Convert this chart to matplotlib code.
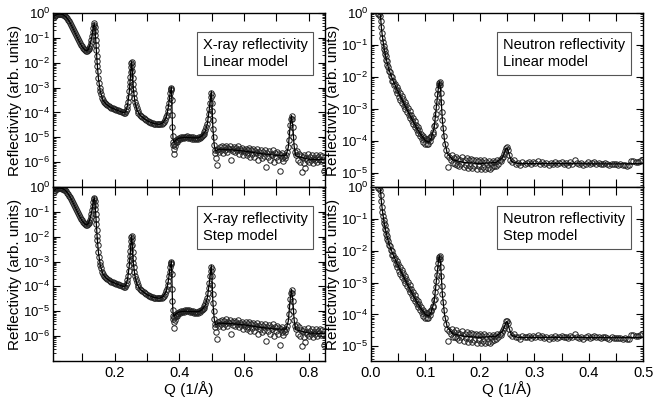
import numpy as np
import matplotlib.pyplot as plt
from matplotlib.ticker import MultipleLocator, FuncFormatter, LogLocator

plt.rcParams['font.family'] = ['Liberation Sans', 'DejaVu Sans']

# X-ray reflectivity data (Q in 1/A, log10 of reflectivity)
xray_q = [
    0.012, 0.015, 0.018, 0.021, 0.024, 0.027, 0.030, 0.033, 0.036, 0.039,
    0.042, 0.045, 0.048, 0.051, 0.054, 0.057, 0.060, 0.063, 0.066, 0.069,
    0.072, 0.075, 0.078, 0.081, 0.084, 0.087, 0.090, 0.093, 0.096, 0.099,
    0.102, 0.105, 0.108, 0.111, 0.114, 0.117, 0.120, 0.122, 0.124, 0.126,
    0.128, 0.130, 0.132, 0.134, 0.136, 0.137, 0.139, 0.140, 0.141, 0.142,
    0.143, 0.144, 0.145, 0.146, 0.147, 0.148, 0.150, 0.152, 0.154, 0.156,
    0.158, 0.161, 0.164, 0.167, 0.170, 0.174, 0.178, 0.182, 0.186, 0.190,
    0.194, 0.198, 0.202, 0.206, 0.210, 0.214, 0.218, 0.222, 0.226, 0.229,
    0.232, 0.235, 0.238, 0.240, 0.242, 0.244, 0.246, 0.247, 0.248, 0.249,
    0.250, 0.251, 0.252, 0.253, 0.254, 0.255, 0.256, 0.257, 0.258, 0.259,
    0.261, 0.263, 0.265, 0.268, 0.271, 0.274, 0.278, 0.282, 0.286, 0.290,
    0.294, 0.298, 0.302, 0.306, 0.310, 0.314, 0.318, 0.322, 0.326, 0.330,
    0.334, 0.338, 0.342, 0.346, 0.350, 0.354, 0.357, 0.360, 0.362, 0.364,
    0.366, 0.368, 0.370, 0.372, 0.374, 0.375, 0.376, 0.377, 0.378, 0.379,
    0.380, 0.381, 0.382, 0.383, 0.384, 0.385, 0.387, 0.389, 0.391, 0.393,
    0.395, 0.397, 0.400, 0.403, 0.406, 0.409, 0.412, 0.415, 0.418, 0.421,
    0.424, 0.427, 0.430, 0.433, 0.436, 0.439, 0.442, 0.445, 0.448, 0.451,
    0.454, 0.457, 0.460, 0.463, 0.466, 0.469, 0.472, 0.475, 0.478, 0.481,
    0.484, 0.487, 0.489, 0.491, 0.493, 0.495, 0.497, 0.499, 0.500, 0.501,
    0.502, 0.503, 0.504, 0.506, 0.508, 0.510, 0.512, 0.514, 0.516, 0.518,
    0.520, 0.524, 0.527, 0.530, 0.533, 0.536, 0.539, 0.542, 0.545, 0.548,
    0.551, 0.554, 0.557, 0.560, 0.563, 0.566, 0.569, 0.572, 0.575, 0.578,
    0.581, 0.584, 0.587, 0.590, 0.593, 0.596, 0.599, 0.602, 0.605, 0.608,
    0.611, 0.614, 0.617, 0.620, 0.623, 0.626, 0.629, 0.632, 0.635, 0.638,
    0.641, 0.644, 0.647, 0.650, 0.653, 0.656, 0.659, 0.662, 0.665, 0.668,
    0.671, 0.674, 0.677, 0.680, 0.683, 0.686, 0.689, 0.692, 0.695, 0.698,
    0.701, 0.704, 0.707, 0.710, 0.713, 0.716, 0.719, 0.722, 0.725, 0.728,
    0.731, 0.734, 0.737, 0.739, 0.741, 0.743, 0.745, 0.747, 0.749, 0.751,
    0.753, 0.755, 0.757, 0.760, 0.763, 0.766, 0.769, 0.772, 0.775, 0.778,
    0.781, 0.784, 0.787, 0.790, 0.793, 0.796, 0.799, 0.802, 0.805, 0.808,
    0.811, 0.814, 0.817, 0.820, 0.823, 0.826, 0.829, 0.832, 0.835, 0.838,
    0.841, 0.844, 0.847,
]
xray_logr = [
    -0.18, -0.12, -0.08, -0.06, -0.05, -0.04, -0.04, -0.04, -0.05, -0.06,
    -0.08, -0.10, -0.13, -0.17, -0.22, -0.28, -0.34, -0.41, -0.48, -0.56,
    -0.64, -0.72, -0.80, -0.88, -0.96, -1.04, -1.12, -1.20, -1.27, -1.34,
    -1.40, -1.45, -1.49, -1.52, -1.52, -1.50, -1.45, -1.39, -1.31, -1.20,
    -1.08, -0.94, -0.78, -0.62, -0.48, -0.42, -0.55, -0.72, -0.90, -1.10,
    -1.30, -1.50, -1.72, -1.95, -2.15, -2.35, -2.60, -2.82, -3.00, -3.15,
    -3.27, -3.40, -3.50, -3.57, -3.62, -3.67, -3.71, -3.75, -3.78, -3.81,
    -3.84, -3.86, -3.88, -3.90, -3.92, -3.94, -3.96, -3.98, -4.00, -4.02,
    -4.04, -3.96, -3.86, -3.74, -3.58, -3.38, -3.12, -2.95, -2.78, -2.58,
    -2.38, -2.18, -2.02, -1.96, -2.10, -2.35, -2.60, -2.85, -3.05, -3.22,
    -3.42, -3.57, -3.70, -3.84, -3.95, -4.03, -4.10, -4.16, -4.20, -4.24,
    -4.28, -4.31, -4.34, -4.37, -4.39, -4.41, -4.43, -4.45, -4.46, -4.47,
    -4.48, -4.48, -4.47, -4.45, -4.42, -4.37, -4.30, -4.20, -4.10, -3.96,
    -3.80, -3.60, -3.40, -3.22, -3.08, -3.00, -3.05, -3.50, -4.10, -4.60,
    -4.95, -5.20, -5.30, -5.45, -5.25, -5.68, -5.35, -5.20, -5.12, -5.20,
    -5.08, -5.10, -5.03, -5.06, -5.00, -5.04, -4.98, -5.02, -4.97, -5.00,
    -4.96, -5.01, -4.97, -5.03, -4.98, -5.05, -5.00, -5.07, -5.03, -5.08,
    -5.02, -5.06, -5.00, -5.02, -4.97, -4.95, -4.91, -4.86, -4.80, -4.72,
    -4.60, -4.45, -4.28, -4.08, -3.85, -3.60, -3.38, -3.20, -3.30, -3.60,
    -3.95, -4.30, -4.65, -5.00, -5.30, -5.50, -5.62, -5.85, -6.10, -5.50,
    -5.45, -5.60, -5.38, -5.52, -5.35, -5.62, -5.40, -5.50, -5.33, -5.58,
    -5.42, -5.48, -5.36, -5.90, -5.45, -5.55, -5.38, -5.60, -5.44, -5.52,
    -5.34, -5.65, -5.47, -5.56, -5.42, -5.70, -5.50, -5.60, -5.45, -5.72,
    -5.52, -5.62, -5.44, -5.78, -5.50, -5.66, -5.48, -5.80, -5.55, -5.62,
    -5.46, -5.90, -5.58, -5.70, -5.50, -5.85, -5.60, -5.75, -5.52, -6.20,
    -5.62, -5.78, -5.55, -5.90, -5.65, -5.72, -5.50, -6.00, -5.64, -5.80,
    -5.58, -5.92, -5.66, -6.35, -5.70, -5.82, -5.62, -5.95, -5.75, -5.85,
    -5.70, -5.60, -5.40, -5.10, -4.80, -4.50, -4.28, -4.15, -4.25, -4.60,
    -5.00, -5.35, -5.60, -5.70, -5.55, -5.90, -5.65, -6.00, -5.75, -6.40,
    -5.80, -6.05, -5.70, -6.25, -5.85, -5.92, -5.68, -6.00, -5.80, -5.90,
    -5.72, -6.05, -5.82, -5.90, -5.70, -6.00, -5.78, -5.88, -5.72, -5.95,
    -5.75, -5.90, -6.35,
]

# X-ray model curves (both models overlap at this scale)
xray_fit_q = [
    0.012, 0.02, 0.03, 0.04, 0.05, 0.06, 0.07, 0.08, 0.09, 0.10,
    0.108, 0.114, 0.12, 0.126, 0.13, 0.134, 0.137, 0.139, 0.142, 0.146,
    0.15, 0.156, 0.164, 0.174, 0.19, 0.21, 0.228, 0.234, 0.24, 0.246,
    0.25, 0.253, 0.255, 0.258, 0.263, 0.27, 0.28, 0.30, 0.32, 0.338,
    0.35, 0.36, 0.366, 0.372, 0.3755, 0.377, 0.379, 0.381, 0.384, 0.39,
    0.40, 0.42, 0.44, 0.46, 0.47, 0.48, 0.487, 0.493, 0.499, 0.501,
    0.504, 0.508, 0.512, 0.52, 0.56, 0.60, 0.65, 0.70, 0.73, 0.737,
    0.743, 0.747, 0.751, 0.755, 0.76, 0.80, 0.85,
]
xray_fit_linear = [
    -0.15, -0.07, -0.04, -0.06, -0.15, -0.33, -0.58, -0.85, -1.12, -1.36,
    -1.49, -1.52, -1.45, -1.20, -0.94, -0.62, -0.40, -0.55, -1.10, -1.95,
    -2.60, -3.15, -3.50, -3.67, -3.81, -3.92, -4.01, -3.98, -3.74, -3.12,
    -2.38, -1.95, -2.35, -3.05, -3.57, -3.92, -4.13, -4.33, -4.44, -4.48,
    -4.42, -4.20, -3.80, -3.22, -2.98, -3.50, -4.60, -5.10, -5.20, -5.10,
    -5.03, -5.00, -5.02, -5.02, -4.94, -4.78, -4.45, -3.85, -3.15, -3.60,
    -4.65, -5.30, -5.55, -5.48, -5.50, -5.55, -5.65, -5.72, -5.72, -5.40,
    -4.50, -4.12, -4.60, -5.35, -5.75, -5.88, -5.90,
]
xray_fit_step = list(xray_fit_linear)

# Neutron reflectivity data
neutron_q = [
    0.013, 0.015, 0.017, 0.018, 0.019, 0.020, 0.021, 0.022, 0.023, 0.024,
    0.025, 0.026, 0.027, 0.028, 0.029, 0.030, 0.032, 0.033, 0.035, 0.036,
    0.038, 0.039, 0.041, 0.042, 0.044, 0.045, 0.047, 0.048, 0.050, 0.051,
    0.053, 0.054, 0.056, 0.057, 0.059, 0.060, 0.062, 0.063, 0.065, 0.066,
    0.068, 0.069, 0.071, 0.072, 0.074, 0.075, 0.077, 0.078, 0.080, 0.081,
    0.083, 0.084, 0.086, 0.087, 0.089, 0.090, 0.092, 0.093, 0.095, 0.096,
    0.098, 0.099, 0.101, 0.102, 0.104, 0.105, 0.107, 0.108, 0.110, 0.111,
    0.113, 0.114, 0.116, 0.117, 0.118, 0.119, 0.120, 0.121, 0.122, 0.123,
    0.124, 0.125, 0.126, 0.127, 0.128, 0.129, 0.130, 0.131, 0.132, 0.134,
    0.136, 0.138, 0.140, 0.142, 0.144, 0.146, 0.148, 0.150, 0.152, 0.154,
    0.156, 0.158, 0.160, 0.162, 0.164, 0.166, 0.168, 0.170, 0.172, 0.174,
    0.176, 0.178, 0.180, 0.182, 0.184, 0.186, 0.188, 0.190, 0.192, 0.194,
    0.196, 0.198, 0.200, 0.202, 0.204, 0.206, 0.208, 0.210, 0.212, 0.214,
    0.216, 0.218, 0.220, 0.222, 0.224, 0.226, 0.228, 0.230, 0.232, 0.234,
    0.236, 0.238, 0.240, 0.242, 0.244, 0.246, 0.248, 0.250, 0.252, 0.254,
    0.256, 0.259, 0.262, 0.266, 0.270, 0.274, 0.278, 0.282, 0.286, 0.290,
    0.294, 0.298, 0.302, 0.306, 0.310, 0.314, 0.318, 0.322, 0.326, 0.330,
    0.334, 0.338, 0.342, 0.346, 0.350, 0.354, 0.358, 0.362, 0.366, 0.370,
    0.374, 0.378, 0.382, 0.386, 0.390, 0.394, 0.398, 0.402, 0.406, 0.410,
    0.414, 0.418, 0.422, 0.426, 0.430, 0.434, 0.438, 0.442, 0.446, 0.450,
    0.454, 0.458, 0.462, 0.466, 0.470, 0.474, 0.478, 0.482, 0.486, 0.490,
    0.494, 0.498,
]
neutron_logr = [
    -0.02, -0.03, -0.08, -0.25, -0.45, -0.62, -0.78, -0.92, -1.02, -1.12,
    -1.20, -1.30, -1.36, -1.48, -1.52, -1.63, -1.70, -1.82, -1.85, -1.98,
    -2.00, -2.14, -2.12, -2.27, -2.22, -2.40, -2.32, -2.50, -2.42, -2.62,
    -2.52, -2.72, -2.60, -2.82, -2.70, -2.92, -2.78, -3.00, -2.88, -3.10,
    -2.98, -3.20, -3.08, -3.30, -3.20, -3.40, -3.30, -3.48, -3.40, -3.58,
    -3.50, -3.66, -3.58, -3.75, -3.68, -3.85, -3.78, -3.95, -3.85, -4.05,
    -3.92, -4.10, -3.95, -4.12, -3.98, -4.10, -3.92, -4.02, -3.85, -3.90,
    -3.72, -3.78, -3.55, -3.50, -3.30, -3.15, -2.95, -2.75, -2.55, -2.38,
    -2.25, -2.18, -2.16, -2.25, -2.50, -2.80, -3.10, -3.35, -3.60, -3.85,
    -4.10, -4.30, -4.45, -4.82, -4.52, -4.60, -4.45, -4.70, -4.55, -4.72,
    -4.50, -4.75, -4.58, -4.80, -4.60, -4.72, -4.52, -4.82, -4.62, -4.75,
    -4.55, -4.85, -4.62, -4.78, -4.58, -4.85, -4.62, -4.80, -4.60, -4.88,
    -4.65, -4.80, -4.60, -4.88, -4.66, -4.82, -4.62, -4.90, -4.68, -4.85,
    -4.65, -4.88, -4.70, -4.82, -4.64, -4.80, -4.66, -4.78, -4.62, -4.72,
    -4.60, -4.65, -4.55, -4.50, -4.42, -4.32, -4.22, -4.20, -4.28, -4.45,
    -4.60, -4.68, -4.62, -4.72, -4.70, -4.76, -4.68, -4.72, -4.70, -4.66,
    -4.74, -4.67, -4.71, -4.65, -4.72, -4.68, -4.74, -4.70, -4.76, -4.70,
    -4.73, -4.68, -4.74, -4.70, -4.66, -4.72, -4.70, -4.75, -4.68, -4.72,
    -4.60, -4.70, -4.73, -4.70, -4.76, -4.72, -4.68, -4.73, -4.70, -4.67,
    -4.72, -4.70, -4.74, -4.72, -4.70, -4.73, -4.76, -4.72, -4.74, -4.73,
    -4.75, -4.74, -4.76, -4.75, -4.78, -4.76, -4.64, -4.65, -4.66, -4.67,
    -4.64, -4.60,
]

neutron_fit_q = [
    0.012, 0.016, 0.0175, 0.019, 0.021, 0.024, 0.028, 0.033, 0.04, 0.05,
    0.06, 0.07, 0.08, 0.09, 0.10, 0.106, 0.11, 0.116, 0.12, 0.124,
    0.126, 0.128, 0.131, 0.135, 0.14, 0.15, 0.17, 0.20, 0.23, 0.242,
    0.248, 0.25, 0.253, 0.258, 0.27, 0.35, 0.45, 0.50,
]
neutron_fit_linear = [
    0.0, -0.02, -0.10, -0.45, -0.75, -1.10, -1.45, -1.78, -2.10, -2.48,
    -2.82, -3.16, -3.48, -3.78, -4.00, -4.05, -3.95, -3.60, -2.95, -2.30,
    -2.15, -2.45, -3.35, -4.00, -4.40, -4.60, -4.68, -4.72, -4.68, -4.52,
    -4.25, -4.22, -4.40, -4.65, -4.72, -4.72, -4.73, -4.72,
]
neutron_fit_step = list(neutron_fit_linear)

labels = {
    'xl': 'X-ray reflectivity\nLinear model',
    'xs': 'X-ray reflectivity\nStep model',
    'nl': 'Neutron reflectivity\nLinear model',
    'ns': 'Neutron reflectivity\nStep model',
}


def decade_formatter(lowest):
    def fmt(v, pos):
        e = int(round(np.log10(v)))
        if e < lowest or e > 0:
            return ''
        return r'$\mathdefault{10^{%d}}$' % e
    return FuncFormatter(fmt)


fig = plt.figure(figsize=(6.63, 4.05), dpi=100)
ax_xl = fig.add_axes([0.080, 0.538, 0.410, 0.430])
ax_xs = fig.add_axes([0.080, 0.109, 0.410, 0.429])
ax_nl = fig.add_axes([0.5596, 0.538, 0.4106, 0.430])
ax_ns = fig.add_axes([0.5596, 0.109, 0.4106, 0.429])

panels = [
    (ax_xl, xray_q, xray_logr, xray_fit_q, xray_fit_linear, labels['xl'], 'x', True),
    (ax_xs, xray_q, xray_logr, xray_fit_q, xray_fit_step, labels['xs'], 'x', False),
    (ax_nl, neutron_q, neutron_logr, neutron_fit_q, neutron_fit_linear, labels['nl'], 'n', True),
    (ax_ns, neutron_q, neutron_logr, neutron_fit_q, neutron_fit_step, labels['ns'], 'n', False),
]

for ax, q, lr, fq, flr, txt, kind, top in panels:
    ax.plot(q, 10.0 ** np.array(lr), 'o', ms=3.9, mfc='none', mec='#222222', mew=0.7)
    ax.plot(fq, 10.0 ** np.array(flr), '-', color='black', lw=0.9)
    ax.set_yscale('log')
    ax.yaxis.set_major_locator(LogLocator(base=10, numticks=10))
    ax.yaxis.set_minor_locator(LogLocator(base=10, subs=np.arange(2, 10), numticks=10))
    if kind == 'x':
        ax.set_xlim(0.01, 0.85)
        ax.set_ylim(1e-7, 1)
        ax.yaxis.set_major_formatter(decade_formatter(-6))
        ax.xaxis.set_major_locator(MultipleLocator(0.1))
        ax.xaxis.set_major_formatter(FuncFormatter(
            lambda v, p: '%.1f' % v if round(v * 10) % 2 == 0 else ''))
        bx = 0.55
    else:
        ax.set_xlim(0.0, 0.5)
        ax.set_ylim(3.5e-6, 1)
        ax.yaxis.set_major_formatter(decade_formatter(-5))
        ax.xaxis.set_major_locator(MultipleLocator(0.05))
        ax.xaxis.set_major_formatter(FuncFormatter(
            lambda v, p: '%.1f' % v if round(v * 20) % 2 == 0 else ''))
        bx = 0.485
    ax.yaxis.set_minor_formatter(FuncFormatter(lambda v, p: ''))
    ax.tick_params(which='both', direction='in', top=True, right=True, labelsize=9.5)
    ax.tick_params(axis='y', which='both', pad=2)
    ax.tick_params(axis='x', labelsize=10.5)
    ax.tick_params(which='major', length=5, width=0.8)
    ax.tick_params(which='minor', length=2.5, width=0.6)
    ax.tick_params(axis='x', which='major', length=6)
    ax.set_ylabel('Reflectivity (arb. units)', fontsize=11, labelpad=1)
    if top:
        ax.tick_params(axis='x', labelbottom=False)
    else:
        ax.set_xlabel('Q (1/Å)', fontsize=11, labelpad=1)
    ax.text(bx, 0.855, txt, transform=ax.transAxes, ha='left', va='top',
            fontsize=10.5, linespacing=1.25,
            bbox=dict(boxstyle='square,pad=0.4', fc='white', ec='#555555', lw=0.8))
    for s in ax.spines.values():
        s.set_linewidth(1.0)

fig.savefig('out.png', dpi=100)
